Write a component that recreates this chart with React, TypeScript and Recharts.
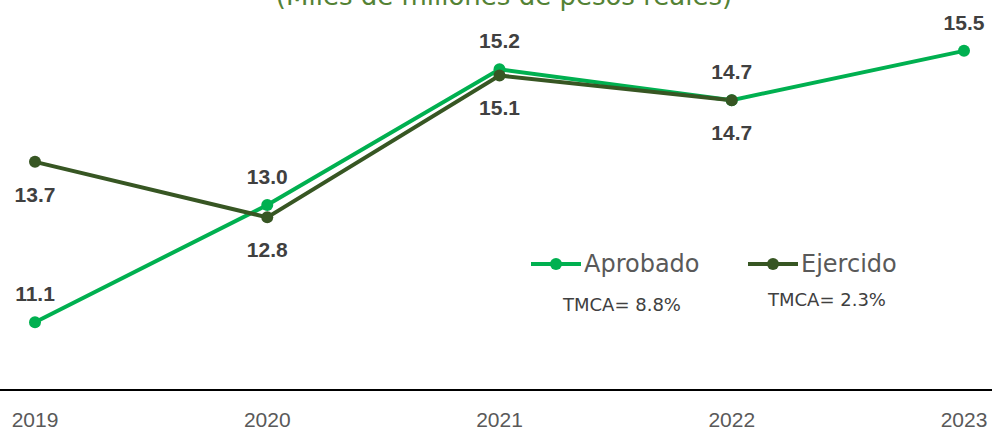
import { LineChart, Line, XAxis, YAxis, LabelList } from "recharts";

const years = ["2019", "2020", "2021", "2022", "2023"];
const aprobado = [11.1, 13.0, 15.2, 14.7, 15.5];
const ejercido: (number | null)[] = [13.7, 12.8, 15.1, 14.7, null];
const seriesNames = ["Aprobado", "Ejercido"];
const tmca = ["TMCA= 8.8%", "TMCA= 2.3%"];
const title = "(Miles de millones de pesos reales)";

const GREEN = "#00B050";
const DARK = "#375623";

const data = years.map((year, i) => ({
  year,
  aprobado: aprobado[i],
  ejercido: ejercido[i],
}));

const fmt = (v: any) => (v == null ? "" : Number(v).toFixed(1));

const labelStyle = {
  fill: "#404040",
  fontSize: 21,
  fontWeight: 700,
  fontFamily: "'Liberation Sans', sans-serif",
};

function LegendBox() {
  const items = [
    { name: seriesNames[0], color: GREEN, left: 530, note: tmca[0], noteLeft: 563, noteTop: 294 },
    { name: seriesNames[1], color: DARK, left: 747, note: tmca[1], noteLeft: 768, noteTop: 289 },
  ];
  return (
    <div style={{ position: "absolute", left: 0, top: 249, width: 992, height: 80 }}>
      {items.map((it) => (
        <div key={it.name}>
          <div
            style={{
              position: "absolute",
              left: it.left,
              top: 0,
              display: "flex",
              alignItems: "center",
              height: 30,
            }}
          >
            <svg width={52} height={14}>
              <line x1={1} y1={7} x2={51} y2={7} stroke={it.color} strokeWidth={4} />
              <circle cx={26} cy={7} r={6} fill={it.color} />
            </svg>
            <span
              style={{
                fontFamily: "'DejaVu Sans', sans-serif",
                fontSize: 24,
                color: "#595959",
                marginLeft: 2,
              }}
            >
              {it.name}
            </span>
          </div>
          <div
            style={{
              position: "absolute",
              left: it.noteLeft,
              top: it.noteTop - 249,
              fontFamily: "'DejaVu Sans', sans-serif",
              fontSize: 18,
              color: "#404040",
              whiteSpace: "nowrap",
            }}
          >
            {it.note}
          </div>
        </div>
      ))}
    </div>
  );
}

export default function App() {
  return (
    <div style={{ position: "fixed", left: 0, top: 0, width: 992, height: 435, background: "#fff" }}>
      <svg width={992} height={20} style={{ position: "absolute", left: 0, top: 0 }}>
        <text
          x={504}
          y={5}
          textAnchor="middle"
          fontFamily="'DejaVu Sans', sans-serif"
          fontSize={26}
          fill="#548235"
        >
          {title}
        </text>
      </svg>
      <LineChart width={992} height={435} data={data} margin={{ top: 20, right: 0, bottom: 0, left: 0 }}>
        <XAxis
          dataKey="year"
          height={45}
          padding={{ left: 35, right: 28 }}
          axisLine={{ stroke: "#000", strokeWidth: 2 }}
          tickLine={false}
          tickMargin={16}
          tick={{
            fill: "#595959",
            fontSize: 21,
            fontFamily: "'Liberation Sans Narrow', 'Liberation Sans', sans-serif",
          }}
        />
        <YAxis hide domain={[10, 16]} />
        <Line
          dataKey="aprobado"
          name={seriesNames[0]}
          stroke={GREEN}
          strokeWidth={4}
          dot={{ r: 6, fill: GREEN, stroke: GREEN, strokeWidth: 0 }}
          isAnimationActive={false}
        >
          <LabelList dataKey="aprobado" position="top" offset={21} formatter={fmt} style={labelStyle} />
        </Line>
        <Line
          dataKey="ejercido"
          name={seriesNames[1]}
          stroke={DARK}
          strokeWidth={4}
          dot={{ r: 6, fill: DARK, stroke: DARK, strokeWidth: 0 }}
          isAnimationActive={false}
        >
          <LabelList dataKey="ejercido" position="bottom" offset={25} formatter={fmt} style={labelStyle} />
        </Line>
      </LineChart>
      <LegendBox />
    </div>
  );
}
